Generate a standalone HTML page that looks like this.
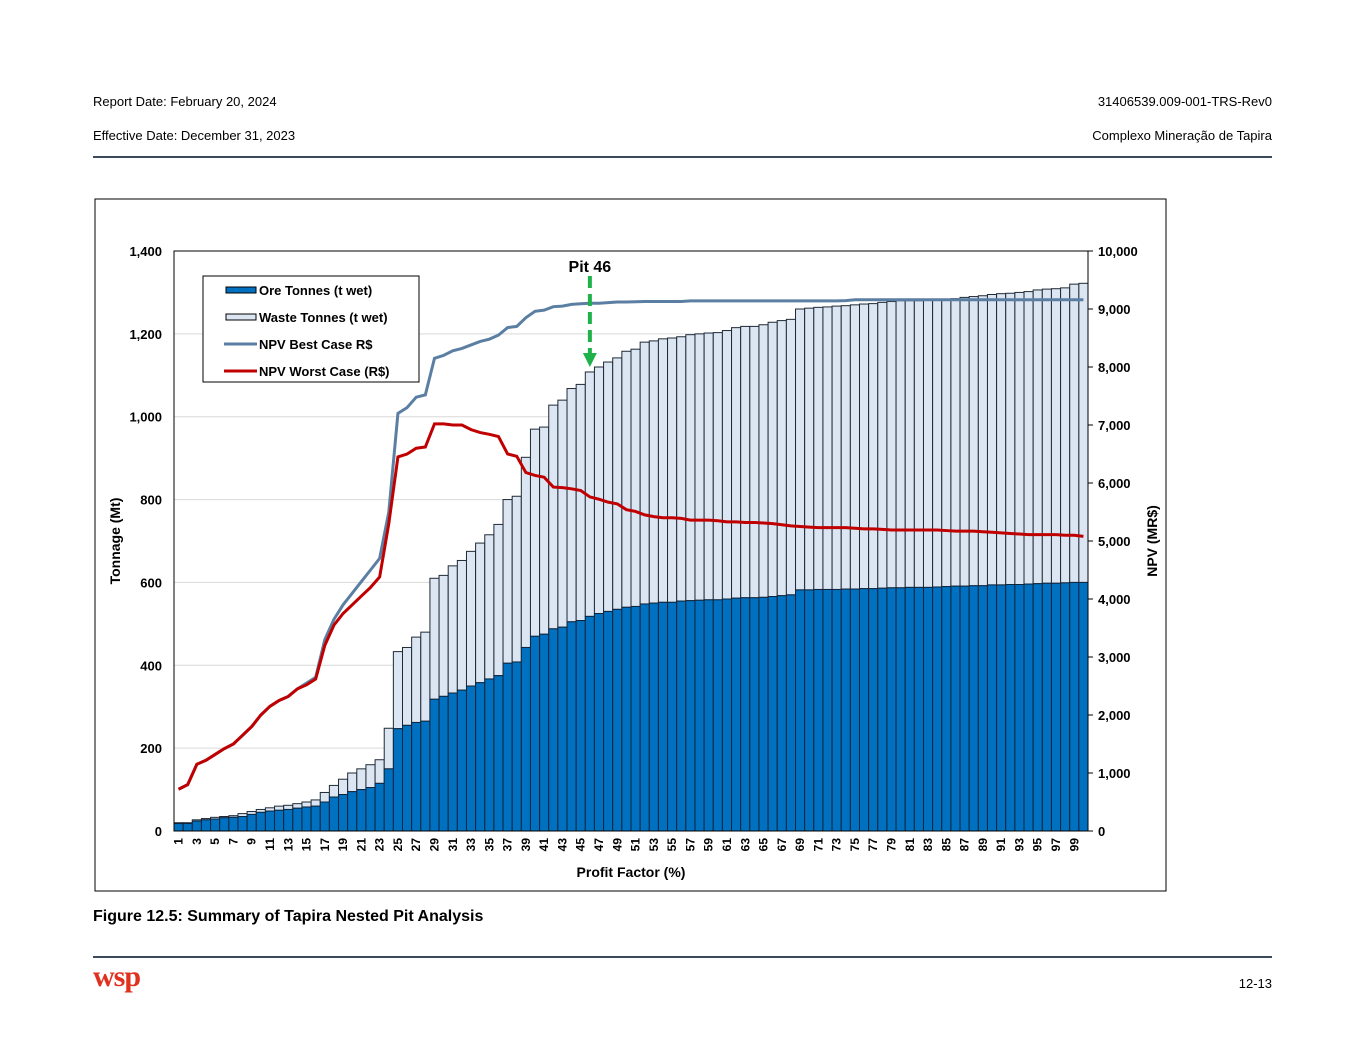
<!DOCTYPE html>
<html><head><meta charset="utf-8"><style>
body{margin:0;width:1365px;height:1055px;background:#fff;font-family:"Liberation Sans",sans-serif;position:relative;overflow:hidden}
.t{position:absolute;font-size:13px;color:#000}
</style></head><body>
<div class="t" style="left:93px;top:94px">Report Date: February 20, 2024</div>
<div class="t" style="right:93px;top:94px">31406539.009-001-TRS-Rev0</div>
<div class="t" style="left:93px;top:128px">Effective Date: December 31, 2023</div>
<div class="t" style="right:93px;top:128px">Complexo Mineração de Tapira</div>
<div style="position:absolute;left:93px;top:156px;width:1179px;height:2px;background:#3d4a5c"></div>
<div class="t" style="left:93px;top:908px;font-size:16px;font-weight:bold">Figure 12.5: Summary of Tapira Nested Pit Analysis</div>
<div style="position:absolute;left:93px;top:956px;width:1179px;height:2px;background:#3d4a5c"></div>
<div style="position:absolute;left:93px;top:960px;font-size:30px;font-weight:bold;color:#e0301e;font-family:'Liberation Serif',serif;letter-spacing:-1px">wsp</div>
<div class="t" style="right:93px;top:976px">12-13</div>
<svg id="chart" width="1365" height="1055" style="position:absolute;left:0;top:0" font-family="Liberation Sans, sans-serif"></svg>
<script>
const total=[20,20,27,30,33,35,37,42,47,52,56,60,62,66,70,75,93,110,125,140,150,160,172,248,433,443,468,480,610,617,640,653,675,695,715,740,800,808,902,970,975,1028,1040,1068,1078,1108,1120,1132,1142,1158,1163,1180,1183,1188,1190,1193,1198,1200,1202,1203,1208,1215,1218,1218,1222,1228,1232,1235,1260,1262,1264,1265,1267,1268,1270,1272,1273,1276,1278,1280,1280,1280,1282,1283,1284,1285,1288,1290,1292,1295,1297,1298,1300,1302,1306,1308,1309,1311,1320,1322];
const ore=[18,18,24,27,29,32,33,35,40,45,48,50,52,55,58,60,70,82,88,95,100,105,115,150,247,255,262,265,318,325,333,340,350,358,367,375,405,408,443,470,475,488,492,505,508,518,525,530,535,540,542,548,550,552,552,555,556,557,558,558,560,562,563,563,564,566,568,570,582,582,583,583,583,584,584,585,585,586,587,587,588,588,588,589,590,591,591,592,592,594,594,595,595,596,597,598,598,599,600,600];
const npvBest=[720,800,1150,1220,1320,1420,1500,1650,1800,2000,2150,2250,2320,2450,2550,2650,3300,3650,3900,4100,4300,4500,4700,5500,7200,7300,7480,7520,8150,8200,8280,8320,8380,8440,8480,8550,8680,8700,8850,8960,8980,9040,9050,9080,9090,9100,9100,9110,9120,9120,9125,9130,9130,9130,9130,9130,9140,9140,9140,9140,9140,9140,9140,9140,9140,9140,9140,9140,9140,9140,9140,9140,9140,9145,9160,9160,9160,9160,9160,9160,9160,9160,9160,9160,9160,9160,9160,9160,9160,9160,9160,9160,9160,9160,9160,9160,9160,9160,9160,9160];
const npvWorst=[720,800,1150,1220,1320,1420,1500,1650,1800,2000,2150,2250,2320,2450,2520,2620,3200,3550,3750,3900,4050,4200,4380,5300,6450,6500,6600,6620,7020,7020,7000,7000,6920,6870,6840,6800,6500,6460,6180,6130,6100,5930,5920,5900,5870,5760,5720,5670,5640,5540,5510,5450,5420,5400,5400,5390,5360,5360,5360,5350,5330,5330,5320,5320,5310,5300,5280,5260,5250,5240,5230,5230,5230,5230,5220,5210,5210,5200,5190,5190,5190,5190,5190,5190,5180,5170,5170,5170,5160,5150,5140,5130,5120,5110,5110,5110,5110,5100,5100,5080];
const leftTicks=[0,200,400,600,800,1000,1200,1400];
const rightTicks=[0,1000,2000,3000,4000,5000,6000,7000,8000,9000,10000];
const leftLabels=["0","200","400","600","800","1,000","1,200","1,400"];
const rightLabels=["0","1,000","2,000","3,000","4,000","5,000","6,000","7,000","8,000","9,000","10,000"];
const X0=174,X1=1088,Y0=831,Y1=251,n=total.length,bw=(X1-X0)/n;
const yL=v=>Y0-(v/1400)*(Y0-Y1), yR=v=>Y0-(v/10000)*(Y0-Y1), xC=i=>X0+(i+0.5)*bw;
const svg=document.getElementById('chart'),NS='http://www.w3.org/2000/svg';
function mk(tag,at,txt){const e=document.createElementNS(NS,tag);for(const k in at)e.setAttribute(k,at[k]);if(txt!=null)e.textContent=txt;svg.appendChild(e);return e;}
let e=mk('rect',{x:95,y:199,width:1071,height:692,fill:'#fff',stroke:'#000','stroke-width':1});


leftTicks.forEach((v,i)=>{
 if(v>0){e=mk('line',{x1:X0,x2:X1,y1:yL(v),y2:yL(v),stroke:'#d9d9d9'});
 
 }
 e=mk('text',{x:162,y:yL(v)+5,'text-anchor':'end','font-size':13,'font-weight':'bold'},leftLabels[i]);
 
 
});
rightTicks.forEach((v,i)=>{
 mk('line',{x1:X1,x2:X1+5,y1:yR(v),y2:yR(v),stroke:'#000'});
 e=mk('text',{x:1098,y:yR(v)+5,'font-size':13,'font-weight':'bold'},rightLabels[i]);
 
 
});
for(let i=0;i<n;i++){
 const x=X0+i*bw;
 e=mk('rect',{x:x,y:yL(total[i]),width:bw,height:yL(ore[i])-yL(total[i]),fill:'#dce6f2',stroke:'#1f2a36','stroke-width':1});
 
 
 e=mk('rect',{x:x,y:yL(ore[i]),width:bw,height:Y0-yL(ore[i]),fill:'#0070c0',stroke:'#10243a','stroke-width':1});
 
 
 if(i%2==0){e=mk('text',{transform:`translate(${xC(i)+4},${838}) rotate(-90)`,'text-anchor':'end','font-size':12,'font-weight':'bold'},String(i+1));
 
 }
}
mk('rect',{x:X0,y:Y1,width:X1-X0,height:Y0-Y1,fill:'none',stroke:'#000'});
e=mk('polyline',{points:npvBest.map((v,i)=>xC(i)+','+yR(v)).join(' '),fill:'none',stroke:'#5b7fa3','stroke-width':3});


e=mk('polyline',{points:npvWorst.map((v,i)=>xC(i)+','+yR(v)).join(' '),fill:'none',stroke:'#c00000','stroke-width':3});


const pi=45;
e=mk('line',{x1:xC(pi),x2:xC(pi),y1:276,y2:355,stroke:'#1fb14a','stroke-width':4,'stroke-dasharray':'12,6'});


mk('polygon',{points:`${xC(pi)-7},353 ${xC(pi)+7},353 ${xC(pi)},367`,fill:'#1fb14a'});
e=mk('text',{x:xC(pi),y:272,'text-anchor':'middle','font-size':16,'font-weight':'bold'},'Pit 46');


e=mk('rect',{x:203,y:276,width:216,height:106,fill:'#fff',stroke:'#000'});


const leg=[['Ore Tonnes (t wet)','ore'],['Waste Tonnes (t wet)','waste'],['NPV Best Case R$','best'],['NPV Worst Case (R$)','worst']];
leg.forEach((l,i)=>{const y=290+i*27;
 if(l[1]=='ore')mk('rect',{x:226,y:y-3,width:30,height:6,fill:'#0070c0',stroke:'#000'});
 else if(l[1]=='waste')mk('rect',{x:226,y:y-3,width:30,height:6,fill:'#dce6f2',stroke:'#000'});
 else mk('line',{x1:224,x2:257,y1:y,y2:y,stroke:l[1]=='best'?'#5b7fa3':'#c00000','stroke-width':3});
 e=mk('text',{x:259,y:y+5,'font-size':13,'font-weight':'bold'},l[0]);
 
 
});
e=mk('text',{x:631,y:877,'text-anchor':'middle','font-size':14,'font-weight':'bold'},'Profit Factor (%)');


e=mk('text',{transform:'translate(120,541) rotate(-90)','text-anchor':'middle','font-size':14,'font-weight':'bold'},'Tonnage (Mt)');


e=mk('text',{transform:'translate(1157,541) rotate(-90)','text-anchor':'middle','font-size':14,'font-weight':'bold'},'NPV (MR$)');


</script>
</body></html>
